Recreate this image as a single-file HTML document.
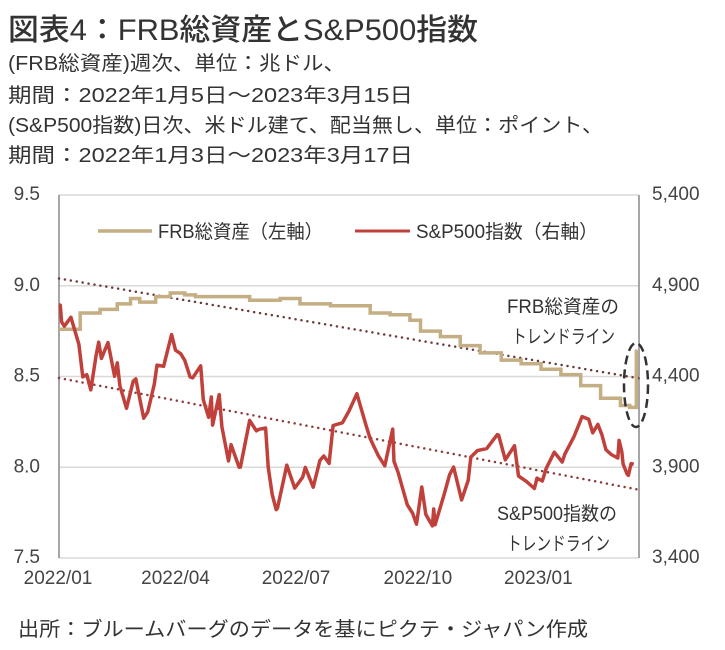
<!DOCTYPE html>
<html><head><meta charset="utf-8"><style>
body{margin:0;background:#fff}
svg{display:block}
text{font-family:"Liberation Sans","Noto Sans CJK JP",sans-serif;fill:#333}
</style></head><body>
<svg id="chart" width="725" height="650" viewBox="0 0 725 650">
<text x="8" y="40" font-size="30" textLength="470" lengthAdjust="spacingAndGlyphs" style="font-weight:500">図表4：FRB総資産とS&amp;P500指数</text>
<text x="8" y="70" font-size="20" textLength="337" lengthAdjust="spacingAndGlyphs">(FRB総資産)週次、単位：兆ドル、</text>
<text x="8" y="102" font-size="20" textLength="405" lengthAdjust="spacingAndGlyphs">期間：2022年1月5日～2023年3月15日</text>
<text x="8" y="132" font-size="20" textLength="595" lengthAdjust="spacingAndGlyphs">(S&amp;P500指数)日次、米ドル建て、配当無し、単位：ポイント、</text>
<text x="8" y="162" font-size="20" textLength="405" lengthAdjust="spacingAndGlyphs">期間：2022年1月3日～2023年3月17日</text>
<g id="plot"></g>
<text x="18" y="636" font-size="20" textLength="570" lengthAdjust="spacingAndGlyphs">出所：ブルームバーグのデータを基にピクテ・ジャパン作成</text>
</svg>
<script>
const leftTicks=[7.5,8.0,8.5,9.0,9.5];
const leftTickLabels=["7.5","8.0","8.5","9.0","9.5"];
const rightTicks=[3400,3900,4400,4900,5400];
const rightTickLabels=["3,400","3,900","4,400","4,900","5,400"];
const xTickDays=[0,88,179,271,362];
const xTickLabels=["2022/01","2022/04","2022/07","2022/10","2023/01"];
const spDays=[0,1,2,4,9,15,18,21,24,28,30,32,37,42,44,46,51,56,58,64,67,72,74,79,85,88,92,95,99,101,107,109,113,115,116,121,123,128,130,136,137,144,149,151,156,158,161,164,165,172,178,184,186,192,197,200,204,207,214,219,225,228,232,235,241,246,252,253,256,263,267,270,274,277,282,283,284,291,295,298,304,309,311,316,323,331,332,337,344,347,353,359,361,365,368,374,380,382,389,395,400,403,407,410,413,417,422,423,425,426,429,430,432,434];
const spValues=[4796,4793,4701,4677,4726,4577,4398,4410,4326,4516,4589,4500,4587,4401,4475,4349,4225,4374,4387,4170,4204,4358,4463,4456,4631,4545,4525,4488,4397,4393,4459,4272,4175,4287,4132,4300,4123,3935,4024,3900,3901,4158,4101,4109,4116,3901,3750,3666,3675,3912,3785,3845,3899,3790,3937,3962,3921,4130,4145,4210,4305,4228,4128,4058,3966,3908,4110,3932,3873,3693,3647,3586,3791,3640,3577,3670,3583,3753,3859,3901,3720,3828,3956,3992,4003,4080,4077,3941,4019,3852,3822,3783,3840,3824,3895,3983,3929,3972,4070,4179,4164,4090,4136,4079,3997,3970,3951,4048,3986,3918,3862,3855,3920,3917];
const frbDays=[2,16,31,44,54,61,73,84,95,103,137,144,167,182,205,235,250,265,273,288,303,318,334,349,364,379,394,409,424,431,436];
const frbValues=[8.76,8.85,8.87,8.90,8.93,8.91,8.94,8.96,8.95,8.94,8.94,8.92,8.93,8.90,8.89,8.85,8.84,8.81,8.75,8.72,8.67,8.63,8.59,8.57,8.54,8.51,8.45,8.38,8.34,8.33,8.64];
const frbTrend=[9.04,8.49];
const spTrend=[4392,3776];
const lastDay=438;

const NS="http://www.w3.org/2000/svg";
const g=document.getElementById('plot');
const X0=59,X1=639,Y0=195,Y1=558;
const xs=d=>X0+d/lastDay*(X1-X0);
const yl=v=>Y1-(v-7.5)/2.0*(Y1-Y0);
const yr=v=>Y1-(v-3400)/2000*(Y1-Y0);
function mk(tag,attrs){const e=document.createElementNS(NS,tag);for(const k in attrs)e.setAttribute(k,attrs[k]);g.appendChild(e);return e;}
leftTicks.forEach((v,i)=>{
  const ln=mk('line',{x1:X0,x2:X1,y1:yl(v),y2:yl(v),stroke:'#d9d9d9','stroke-width':1.5});
  
  
  const t=mk('text',{x:40,y:yl(v)+5,'font-size':19,'text-anchor':'end',style:'fill:#444'});
  t.textContent=leftTickLabels[i];
  
  
});
rightTicks.forEach((v,i)=>{
  const t=mk('text',{x:652,y:yr(v)+5,'font-size':19,style:'fill:#444'});
  t.textContent=rightTickLabels[i];
  
  
});
xTickDays.forEach((d,i)=>{
  const t=mk('text',{x:xs(d)+(i==0?-1:0),y:584,'font-size':19,'text-anchor':'middle',style:'fill:#444'});
  t.textContent=xTickLabels[i];
  
  
});
const axL=mk('line',{x1:X0,x2:X0,y1:Y0,y2:Y1,stroke:'#888','stroke-width':1.5});


const axR=mk('line',{x1:X1,x2:X1,y1:Y0,y2:Y1,stroke:'#888','stroke-width':1.5});


const t1=mk('line',{x1:X0,y1:yl(frbTrend[0]),x2:X1,y2:yl(frbTrend[1]),stroke:'#6b3b3b','stroke-width':2.5,'stroke-dasharray':'0 6','stroke-linecap':'round'});


const t2=mk('line',{x1:X0,y1:yr(spTrend[0]),x2:X1,y2:yr(spTrend[1]),stroke:'#8b3b3b','stroke-width':2.5,'stroke-dasharray':'0 6','stroke-linecap':'round'});


let p='';
frbDays.forEach((d,i)=>{const x=xs(d),y=yl(frbValues[i]);if(i==0)p+='M'+X0+' '+y;else p+='H'+x+'V'+y;});
p+='H'+xs(frbDays[frbDays.length-1]+1);
const fl=mk('path',{d:p,fill:'none',stroke:'#c4ae84','stroke-width':3.5});


const sp=mk('path',{d:spDays.map((d,i)=>(i?'L':'M')+xs(d).toFixed(1)+' '+yr(spValues[i]).toFixed(1)).join(''),fill:'none',stroke:'#c0413b','stroke-width':3.5,'stroke-linejoin':'round'});


const el=mk('ellipse',{cx:636,cy:385,rx:12,ry:42,fill:'none',stroke:'#333','stroke-width':2.5,'stroke-dasharray':'9 5'});


const lg1=mk('line',{x1:98,x2:152,y1:231,y2:231,stroke:'#c4ae84','stroke-width':3.5});


const lt1=mk('text',{x:158,y:238,'font-size':19,textLength:165,lengthAdjust:'spacingAndGlyphs'});
lt1.textContent='FRB総資産（左軸）';


const lg2=mk('line',{x1:355,x2:410,y1:231,y2:231,stroke:'#c0413b','stroke-width':3});


const lt2=mk('text',{x:416,y:238,'font-size':19,textLength:182,lengthAdjust:'spacingAndGlyphs'});
lt2.textContent='S&P500指数（右軸）';


[['FRB総資産の',507,313,112,'frb-trend-annotation-1'],['トレンドライン',512,343,103,'frb-trend-annotation-2'],['S&P500指数の',497,520,120,'sp500-trend-annotation-1'],['トレンドライン',507,550,103,'sp500-trend-annotation-2']].forEach(a=>{
  const t=mk('text',{x:a[1],y:a[2],'font-size':19,textLength:a[3],lengthAdjust:'spacingAndGlyphs'});
  t.textContent=a[0];
  
  
});
</script>
</body></html>
